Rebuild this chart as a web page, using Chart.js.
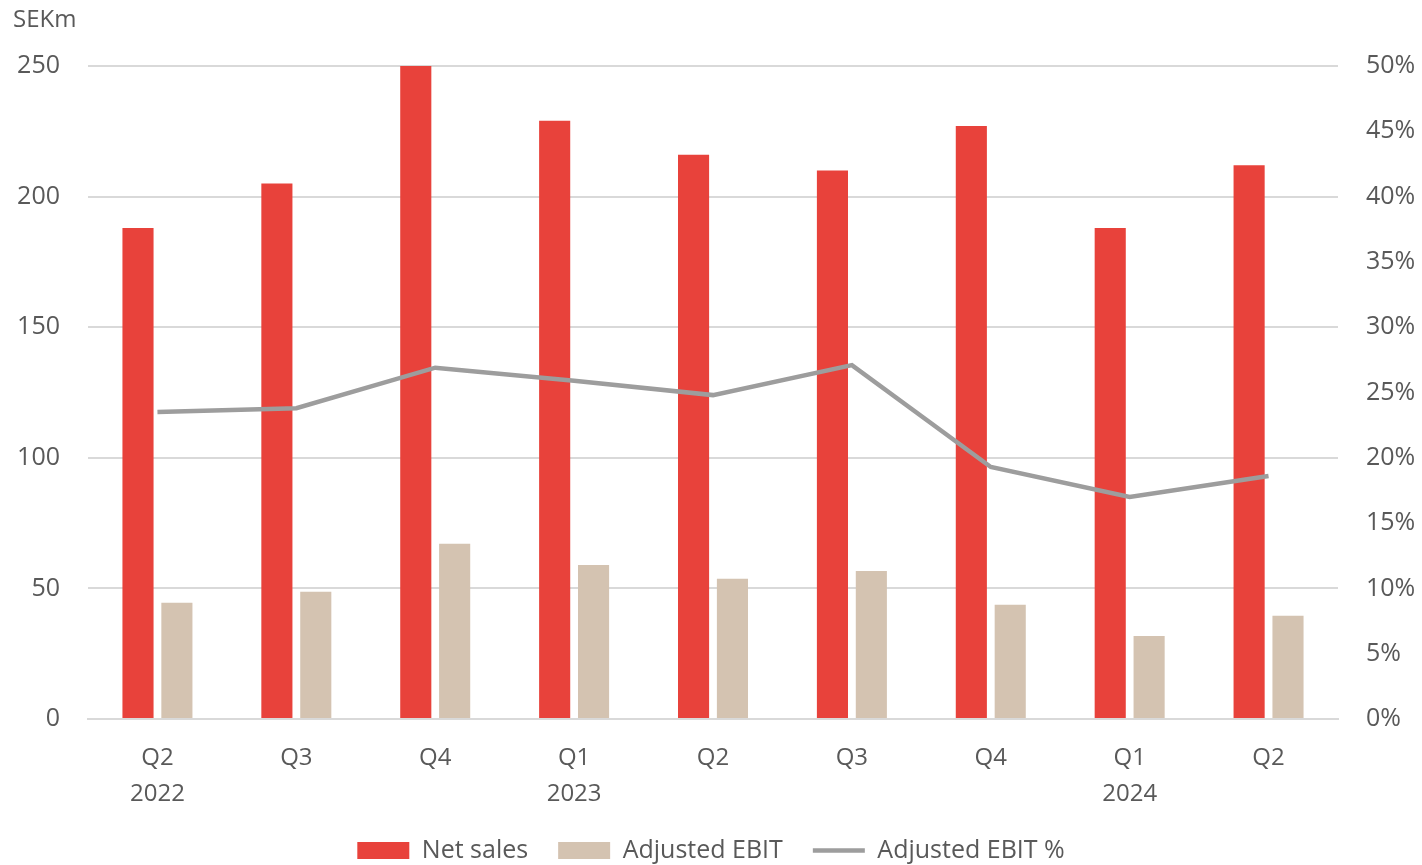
<!DOCTYPE html>
<html lang="en">
<head>
    <meta charset="UTF-8">
    <title>Net sales and adjusted EBIT</title>
    <script src="https://cdn.jsdelivr.net/npm/chart.js"></script>
    <style>
        html, body { margin: 0; padding: 0; background: #ffffff; }
        .chart-box { width: 1422px; height: 865px; position: relative; }
    </style>
</head>
<body>
    <div class="chart-box">
        <canvas id="salesChart"></canvas>
    </div>

    <script>
        // Data
        const quarters = ['Q2', 'Q3', 'Q4', 'Q1', 'Q2', 'Q3', 'Q4', 'Q1', 'Q2'];
        const years = ['2022', '', '', '2023', '', '', '', '2024', ''];
        const netSales = [188, 205, 250, 229, 216, 210, 227, 188, 212];
        const adjustedEbit = [44.5, 48.7, 67.1, 59.0, 53.7, 56.7, 43.7, 31.8, 39.5];
        const adjustedEbitPct = [23.5, 23.8, 26.9, 25.9, 24.8, 27.1, 19.3, 17.0, 18.6];

        const textColor = '#595959';
        const gridColor = '#d9d9d9';
        const fontFamily = '"Open Sans", "Liberation Sans", sans-serif';

        const labels = quarters.map((q, i) => years[i] ? [q, years[i]] : [q]);

        // "SEKm" unit label above the left axis
        const unitLabel = {
            id: 'unitLabel',
            afterDraw(chart) {
                const ctx = chart.ctx;
                ctx.save();
                ctx.font = '24px ' + fontFamily;
                ctx.fillStyle = textColor;
                ctx.textAlign = 'left';
                ctx.textBaseline = 'middle';
                ctx.fillText('SEKm', 13, chart.chartArea.top - 46);
                ctx.restore();
            }
        };

        const ctx = document.getElementById('salesChart').getContext('2d');
        new Chart(ctx, {
            type: 'bar',
            data: {
                labels: labels,
                datasets: [
                    {
                        label: 'Net sales',
                        data: netSales,
                        backgroundColor: '#e8423b',
                        yAxisID: 'y',
                        pointStyle: 'rect',
                        order: 2
                    },
                    {
                        label: 'Adjusted EBIT',
                        data: adjustedEbit,
                        backgroundColor: '#d4c3b1',
                        yAxisID: 'y',
                        pointStyle: 'rect',
                        order: 2
                    },
                    {
                        type: 'line',
                        label: 'Adjusted EBIT %',
                        data: adjustedEbitPct,
                        borderColor: '#9d9d9d',
                        backgroundColor: '#9d9d9d',
                        borderWidth: 4.5,
                        pointRadius: 0,
                        pointStyle: 'line',
                        tension: 0,
                        yAxisID: 'y1',
                        order: 1
                    }
                ]
            },
            options: {
                responsive: true,
                maintainAspectRatio: false,
                animation: false,
                layout: { padding: { top: 66, left: 0, right: 0, bottom: -8 } },
                datasets: {
                    bar: { categoryPercentage: 0.56, barPercentage: 0.8 }
                },
                plugins: {
                    tooltip: { enabled: false },
                    legend: {
                        position: 'bottom',
                        labels: {
                            color: textColor,
                            font: { family: fontFamily, size: 25 },
                            usePointStyle: true,
                            pointStyleWidth: 52,
                            boxHeight: 17,
                            padding: 30,
                            sort: (a, b) => a.datasetIndex - b.datasetIndex
                        }
                    }
                },
                scales: {
                    x: {
                        grid: { display: false },
                        border: { display: true, color: gridColor, width: 2 },
                        ticks: {
                            color: textColor,
                            font: { family: fontFamily, size: 24, lineHeight: 1.5 },
                            padding: 13,
                            maxRotation: 0
                        },
                        afterFit(scale) { scale.height = 89; }
                    },
                    y: {
                        position: 'left',
                        min: 0,
                        max: 250,
                        ticks: {
                            stepSize: 50,
                            color: textColor,
                            font: { family: fontFamily, size: 25 },
                            padding: 28
                        },
                        grid: { color: gridColor, lineWidth: 2, drawTicks: false },
                        border: { display: false },
                        afterFit(scale) { scale.width = 88; }
                    },
                    y1: {
                        position: 'right',
                        min: 0,
                        max: 50,
                        ticks: {
                            stepSize: 5,
                            color: textColor,
                            font: { family: fontFamily, size: 25 },
                            padding: 28,
                            callback: value => value + '%'
                        },
                        grid: { display: false, drawTicks: false },
                        border: { display: false },
                        afterFit(scale) { scale.width = 84; }
                    }
                }
            },
            plugins: [unitLabel]
        });
    </script>
</body>
</html>
